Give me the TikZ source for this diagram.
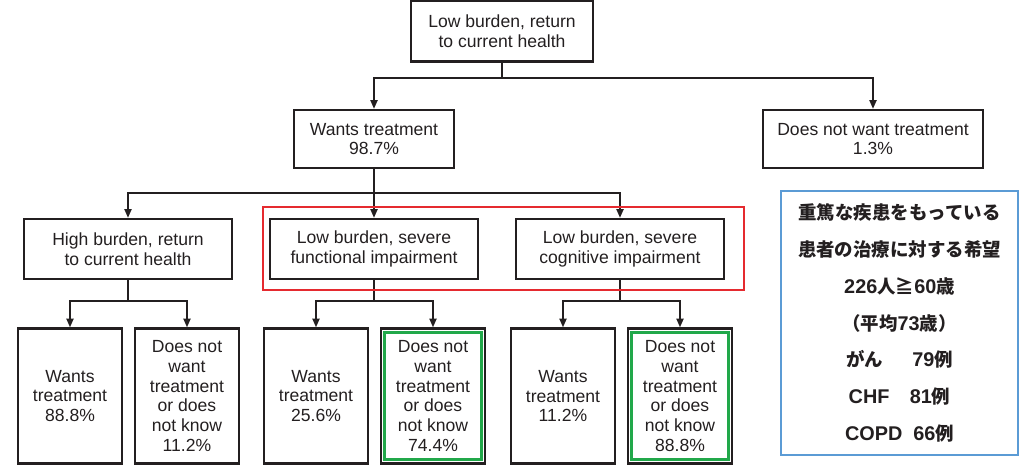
\documentclass[tikz,border=0pt]{standalone}
\usepackage{fontspec}
\setmainfont{Liberation Sans}
\newfontfamily\jpfont{Noto Sans CJK JP}
\usetikzlibrary{arrows.meta, positioning}
\definecolor{cInk}{HTML}{231F20}
\definecolor{cRed}{HTML}{E52A2F}
\definecolor{cGreen}{HTML}{21A84A}
\definecolor{cBlue}{HTML}{5B9BD5}
\newcommand{\ltn}[1]{{\rmfamily\fontsize{11.3}{20.9}\selectfont #1}}

\begin{document}
\begin{tikzpicture}[x=0.02cm, y=-0.02cm, >={Triangle[length=5pt, width=4pt]},
  box/.style={draw=cInk, line width=1.3pt, align=center, text=cInk, inner sep=2pt,
    font=\fontsize{10}{11.2}\selectfont},
  wide/.style={box, minimum width=4.16cm, minimum height=1.2cm},
  leaf/.style={box, minimum width=2.08cm, minimum height=2.7cm},
  link/.style={cInk, line width=1.1pt}]
  \useasboundingbox (0,0) rectangle (1022,464);
  % first two levels
  \node[box, minimum width=3.64cm, minimum height=1.22cm] (top) at (502,31) {Low burden, return\\to current health};
  \node[box, minimum width=3.2cm, minimum height=1.16cm] (want) at (374,139) {Wants treatment\\98.7\%};
  \node[box, minimum width=4.4cm, minimum height=1.16cm] (nowant) at (873,139) {Does not want treatment\\1.3\%};
  \node[wide] (high) at (128,249) {High burden, return\\to current health};
  \node[wide] (func) at (374,249) {Low burden, severe\\functional impairment};
  \node[wide] (cog) at (620,249) {Low burden, severe\\cognitive impairment};
  % leaves
  \node[leaf] (hw) at (70,396) {Wants\\treatment\\88.8\%};
  \node[leaf] (hn) at (187,396) {Does not\\want\\treatment\\or does\\not know\\11.2\%};
  \node[leaf] (fw) at (316,396) {Wants\\treatment\\25.6\%};
  \node[leaf] (fn) at (433,396) {Does not\\want\\treatment\\or does\\not know\\74.4\%};
  \node[leaf] (cw) at (563,396) {Wants\\treatment\\11.2\%};
  \node[leaf] (cn) at (680,396) {Does not\\want\\treatment\\or does\\not know\\88.8\%};

  \coordinate (j0) at (502,78);
  \draw[link] (top.south) -- (j0);
  \draw[link, ->] (j0) -| (want.north);
  \draw[link, ->] (j0) -| (nowant.north);
  \draw[link] (want.south) -- ++(0,24) coordinate (j1);
  \foreach \n in {high, func, cog}
    \draw[link, ->] (j1) -| (\n.north);
  \foreach \p/\a/\b in {high/hw/hn, func/fw/fn, cog/cw/cn} {
    \draw[link] (\p.south) -- ++(0,21) coordinate (\p-j);
    \draw[link, ->] (\p-j) -| (\a.north);
    \draw[link, ->] (\p-j) -| (\b.north);
  }

  % highlights
  \draw[cRed, line width=1.2pt] ([shift={(-6,-11)}]func.north west) rectangle ([shift={(19,10)}]cog.south east);
  \foreach \n in {fn, cn}
    \draw[cGreen, line width=1.7pt] ([shift={(5,5.5)}]\n.north west) rectangle ([shift={(-5,-5.5)}]\n.south east);

  \node[draw=cBlue, line width=0.8pt, minimum width=4.74cm, minimum height=5.28cm, align=center,
    font=\jpfont\bfseries\fontsize{10.5}{20.9}\selectfont, text=cInk] (info) at (899.5,323)
    {重篤な疾患をもっている\\患者の治療に対する希望\\\ltn{226}人≧\ltn{60}歳\\（平均\ltn{73}歳）\\
     がん\hspace{1.6em}\ltn{79}例\\\ltn{CHF}\hspace{1.1em}\ltn{81}例\\\ltn{COPD}\hspace{0.6em}\ltn{66}例};
\end{tikzpicture}
\end{document}
